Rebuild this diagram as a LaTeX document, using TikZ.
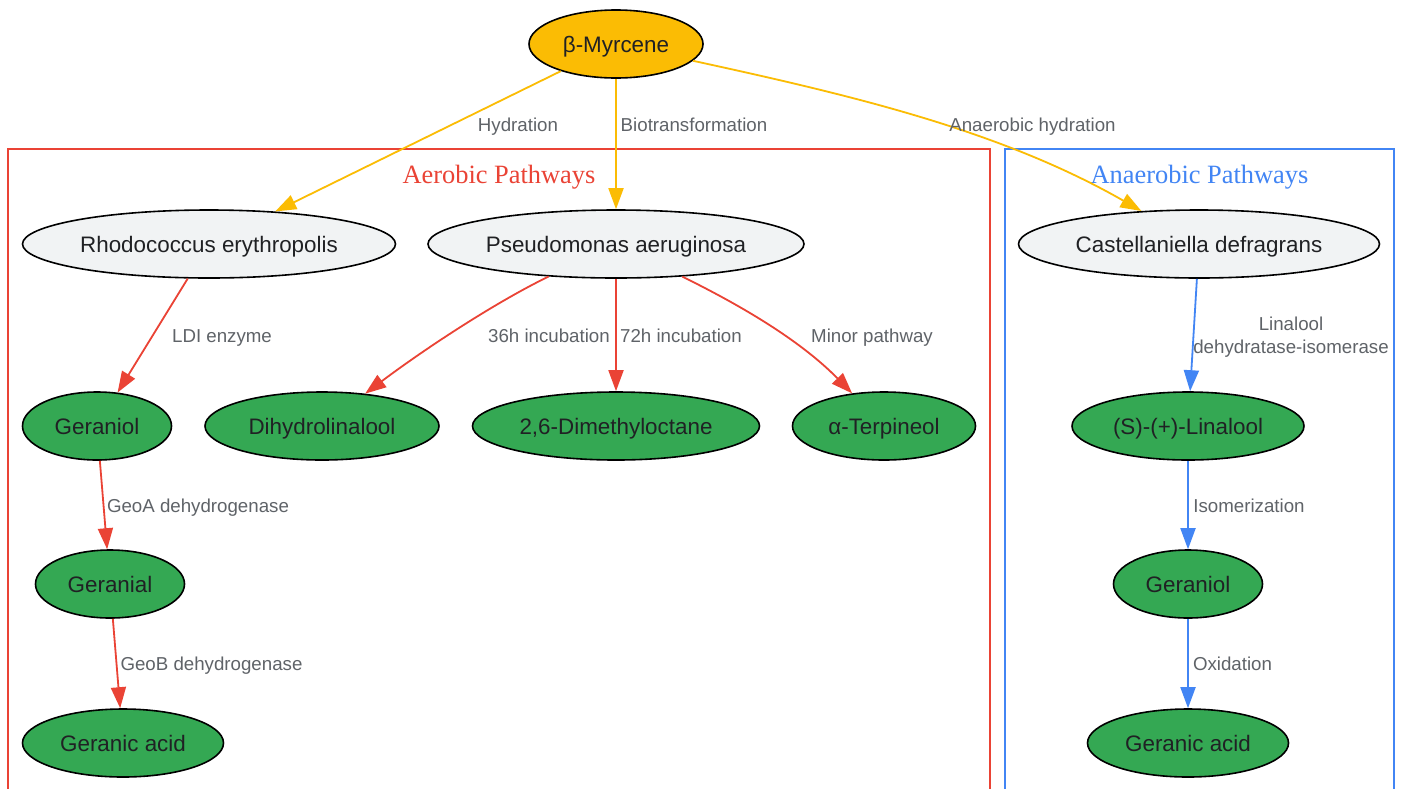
\documentclass[tikz,border=0pt]{standalone}
\usepackage{fontspec}
\setmainfont{Liberation Sans}
\newfontfamily\titlefont{Liberation Serif}
\usetikzlibrary{shapes.geometric,arrows.meta}
\definecolor{gyellow}{HTML}{FBBC04}
\definecolor{ggray}{HTML}{F1F3F4}
\definecolor{ggreen}{HTML}{34A853}
\definecolor{gred}{HTML}{EA4335}
\definecolor{gblue}{HTML}{4285F4}
\definecolor{lblgray}{HTML}{5F6368}
\definecolor{nodetext}{HTML}{202124}
\tikzset{
  basenode/.style={ellipse, draw=black, line width=1.6pt, inner sep=0pt,
    minimum height=68pt, font=\fontsize{22.4}{26}\selectfont, text=nodetext,
    text height=16.2pt, text depth=0pt},
  srcnode/.style={basenode, fill=gyellow},
  orgnode/.style={basenode, fill=ggray},
  prodnode/.style={basenode, fill=ggreen},
  elabelbase/.style={font=\fontsize{18.7}{23}\selectfont, text=lblgray, inner sep=0pt, align=center},
  elabel/.style={elabelbase, text height=15.4pt, text depth=0pt},
  flow/.style={line width=1.8pt, -{Triangle[length=21pt,width=15pt]}},
  cluster/.style={line width=1.5pt},
  ctitle/.style={font=\titlefont\fontsize{26.4}{30}\selectfont, inner sep=0pt}
}
\begin{document}
\begin{tikzpicture}[x=1pt,y=-1pt]
\useasboundingbox (0,0) rectangle (1404,788);
\fill[white] (0,0) rectangle (1404,788);

% clusters
\draw[cluster, draw=gred] (8,149) rectangle (990,810);
\draw[cluster, draw=gblue] (1005,149) rectangle (1394,810);
\node[ctitle, text=gred] (taer) at (499,177) {Aerobic Pathways};
\node[ctitle, text=gblue] (tana) at (1199.5,177) {Anaerobic Pathways};

% nodes
\node[srcnode, minimum width=174pt] (myr) at (616,44) {β-Myrcene};
\node[orgnode, minimum width=373pt] (rho) at (209,244) {Rhodococcus erythropolis};
\node[orgnode, minimum width=376pt] (pse) at (616,244) {Pseudomonas aeruginosa};
\node[orgnode, minimum width=361pt] (cas) at (1199,244) {Castellaniella defragrans};
\node[prodnode, minimum width=149pt] (ger1) at (97,426) {Geraniol};
\node[prodnode, minimum width=234pt] (dih) at (322,426) {Dihydrolinalool};
\node[prodnode, minimum width=287pt] (dmo) at (616,426) {2,6-Dimethyloctane};
\node[prodnode, minimum width=183pt] (ter) at (884,426) {α-Terpineol};
\node[prodnode, minimum width=232pt] (lin) at (1188,426) {(S)-(+)-Linalool};
\node[prodnode, minimum width=149pt] (gal) at (110,584) {Geranial};
\node[prodnode, minimum width=149pt] (ger2) at (1188,584) {Geraniol};
\node[prodnode, minimum width=201pt] (gac1) at (123,743) {Geranic acid};
\node[prodnode, minimum width=201pt] (gac2) at (1188,743) {Geranic acid};

% edges
\draw[flow, gyellow] (myr) -- (rho);
\draw[flow, gyellow] (myr) -- (pse);
\draw[flow, gyellow] (myr) .. controls (850,95) and (1000,130) .. (cas);
\draw[flow, gred] (rho) -- (ger1);
\draw[flow, gred] (pse) .. controls (500,300) and (430,345) .. (dih);
\draw[flow, gred] (pse) -- (dmo);
\draw[flow, gred] (pse) .. controls (740,305) and (800,340) .. (ter);
\draw[flow, gred] (ger1) -- (gal);
\draw[flow, gred] (gal) -- (gac1);
\draw[flow, gblue] (cas) -- (lin);
\draw[flow, gblue] (lin) -- (ger2);
\draw[flow, gblue] (ger2) -- (gac2);

% edge labels
\node[elabel] (l1) at (518,124) {Hydration};
\node[elabel] (l2) at (694,124) {Biotransformation};
\node[elabel] (l3) at (1032.5,124) {Anaerobic hydration};
\node[elabel] (l4) at (222,335) {LDI enzyme};
\node[elabel] (l5) at (549,335) {36h incubation};
\node[elabel] (l6) at (681,335) {72h incubation};
\node[elabel] (l7) at (872,335) {Minor pathway};
\node[elabelbase] (l8) at (1291,337.5) {Linalool\\dehydratase-isomerase};
\node[elabel] (l9) at (198,505) {GeoA dehydrogenase};
\node[elabel] (l10) at (211.5,663) {GeoB dehydrogenase};
\node[elabel] (l11) at (1249,505) {Isomerization};
\node[elabel] (l12) at (1232.5,663) {Oxidation};
\end{tikzpicture}
\end{document}
